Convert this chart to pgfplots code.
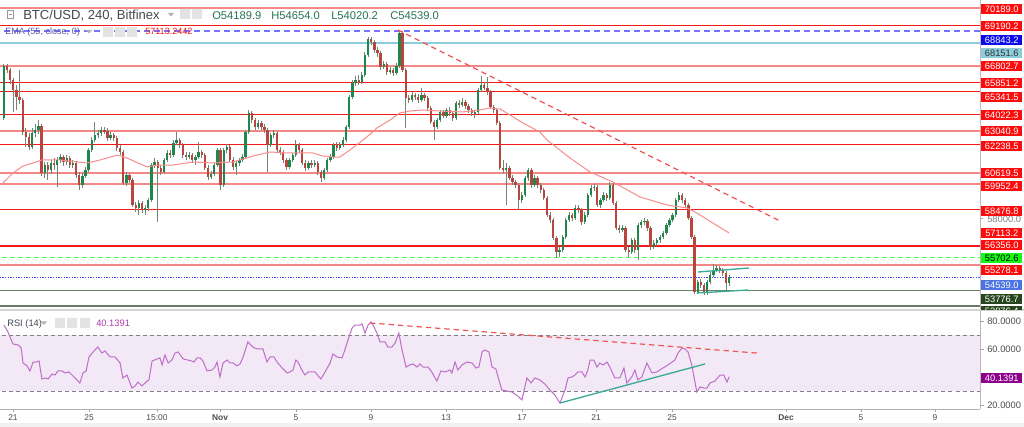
\documentclass[border=0pt]{standalone}
\usepackage{fontspec}
\setmainfont{Liberation Sans}
\usepackage{pgfplots}
\usepackage{pgfplotstable}
\pgfplotsset{compat=1.18}

\definecolor{upc}{RGB}{30,135,75}
\definecolor{dnc}{RGB}{185,70,62}
\definecolor{wick}{RGB}{110,135,118}
\definecolor{hred}{RGB}{245,25,25}
\definecolor{hpink}{RGB}{246,135,135}
\definecolor{ema}{RGB}{248,140,140}
\definecolor{tred}{RGB}{240,85,85}
\definecolor{chtl}{RGB}{60,170,150}
\definecolor{tagred}{RGB}{252,12,12}
\definecolor{tagblue}{RGB}{10,10,235}
\definecolor{taglb}{RGB}{140,205,220}
\definecolor{taggreen}{RGB}{20,250,20}
\definecolor{tagprice}{RGB}{75,115,225}
\definecolor{tagdg}{RGB}{40,70,30}
\definecolor{rsic}{RGB}{190,110,200}
\definecolor{rsiband}{RGB}{243,232,245}
\definecolor{rsitag}{RGB}{140,0,140}
\definecolor{hdr}{RGB}{70,72,82}
\definecolor{ohlc}{RGB}{40,115,80}
\definecolor{lvlg}{RGB}{105,135,100}
\definecolor{lvlk}{RGB}{110,120,105}

% 4h candles, k = candle index (6 per day, k=3 is 21 Oct 00:00)
\pgfplotstableread{
k o h l c
0 63798 66936 63682 66819
9 62113 63217 61997 62927
10 62927 63450 62694 63101
11 63101 63682 62869 63333
13 60603 61242 60312 61067
15 60777 61358 60545 61184
17 61067 61532 59789 61358
18 61358 61707 61184 61532
20 61242 61648 61067 61474
22 61067 61358 60893 61184
25 59905 60603 59731 60428
26 60428 60951 60312 60777
27 60777 62055 60661 61939
28 61939 62694 61823 62520
29 62520 63566 62404 62810
30 62810 63101 62636 62927
31 62927 63275 62752 63101
34 62636 62985 62520 62810
39 60022 60661 59847 60486
43 58569 59034 58162 58860
45 58453 58743 58162 58569
46 58569 59150 58395 59034
47 59034 61184 58918 61067
48 61067 61474 60893 61242
51 60661 61474 60545 61358
52 61358 61939 61242 61765
54 61648 62520 61532 62346
55 62346 62985 62229 62520
59 61532 61823 61416 61648
61 61358 61648 61067 61532
62 61532 62404 61416 61823
66 60370 60719 60254 60545
67 60545 61184 60428 61067
68 61067 62055 60951 61939
70 59905 62055 59789 61939
71 61939 62288 61765 62113
74 60951 61300 60486 61184
75 61184 61474 61009 61358
76 61358 61707 61242 61532
77 61532 63101 61416 62985
78 62985 64263 62869 64089
81 63275 63682 63159 63508
85 62229 62927 62113 62810
86 62810 63101 62636 62927
91 60951 61474 60835 61358
92 61358 61765 61242 61648
93 61648 62520 61532 62229
97 60893 61300 60777 61184
99 61067 61358 60951 61184
102 60312 60893 60196 60777
103 60777 61474 60661 61358
104 61358 61707 61242 61532
105 61532 62346 61416 62229
107 62055 62404 61939 62229
108 62229 62694 62113 62520
109 62520 63392 62404 63275
110 63275 65134 63159 65018
111 65018 66006 64902 65832
112 65832 66238 65657 66006
114 65890 66471 65774 66296
115 66296 67633 66180 67458
116 67458 68504 67342 68388
121 66761 67110 66645 66936
123 66471 66761 66355 66587
125 66413 66994 66296 66819
126 66819 68911 66703 68737
130 64844 65309 64728 65134
133 64844 65541 64728 65134
138 63275 63798 63159 63682
139 63682 64263 63566 64147
141 63914 64379 63798 64263
144 63798 64786 63682 64670
146 64553 64960 64437 64728
150 64089 64263 63798 64147
151 64147 65541 64031 65425
152 65425 66238 65309 65715
160 60777 61184 58743 60893
165 59034 59499 58860 59324
166 59324 60428 59208 60312
167 60312 60893 60138 60777
169 59905 60486 59789 60312
177 56013 56303 55722 56129
178 56129 57001 56013 56884
179 56884 57988 56768 57872
180 57872 58337 57756 58162
182 57988 58743 57872 58569
185 57756 58337 57640 58162
186 58162 59441 58046 59324
187 59324 59905 59208 59731
188 59731 59964 59557 59789
190 58743 59150 58569 59034
191 59034 59499 58918 59324
193 59150 60080 59034 59905
197 57291 57581 57175 57407
200 56013 56826 55897 56710
202 56129 57698 55548 57581
203 57581 57872 57407 57756
204 57756 57988 57581 57814
207 56303 56710 56187 56536
208 56536 56826 56361 56710
209 56710 57001 56536 56884
210 56884 57233 56768 57117
211 57117 57698 57001 57581
212 57581 57988 57465 57872
213 57872 58279 57756 58162
214 58162 59150 58046 59034
215 59034 59499 58918 59324
221 53689 54386 53573 54270
224 53631 54386 53515 54270
225 54270 54851 54154 54676
226 54676 55316 54560 54967
227 54967 55258 54851 55083
231 54189.9 54654.0 54020.2 54539.0
}\upcandles

\pgfplotstableread{
k o h l c
1 66819 66936 66413 66587
2 66587 66703 65774 66006
3 66006 66122 64147 65425
4 65425 65715 64263 65018
5 65018 66587 64612 64844
6 64844 64960 62810 62985
7 62985 63217 62113 62694
8 62694 62927 61939 62113
12 63333 63450 60428 60603
14 61067 61242 60196 60777
16 61184 61474 60777 61067
19 61532 61648 61009 61242
21 61474 61590 60893 61067
23 61184 61300 60312 60486
24 60486 60661 59615 59905
32 63101 63275 62869 63043
33 63043 63217 62462 62636
35 62810 62927 62462 62636
36 62636 62752 61881 62055
37 62055 62229 61648 61823
38 61823 61939 59905 60022
40 60486 60603 60022 60196
41 60196 60312 58627 58743
42 58743 58918 58337 58569
44 58860 58976 58279 58453
49 61242 61358 57756 60893
50 60893 61067 60486 60661
53 61765 61939 61474 61648
56 62520 62636 62055 62229
57 62229 62346 61474 61648
58 61648 61823 61358 61532
60 61648 61765 61184 61358
63 61823 61939 61474 61648
64 61648 61765 60777 60893
65 60893 61067 60196 60370
69 61939 62055 59615 59905
72 62113 62229 61242 61358
73 61358 61532 60777 60951
79 64089 64205 63508 63682
80 63682 63798 63101 63275
82 63508 63624 63101 63275
83 63275 63450 62927 63101
84 63101 63217 60661 62229
87 62927 63043 61765 61939
88 61939 62113 61648 61823
89 61823 61939 61184 61358
90 61358 61474 60777 60951
94 62229 62346 61765 61939
95 61939 62055 61067 61184
96 61184 61358 60719 60893
98 61184 61358 60893 61067
100 61184 61300 60486 60661
101 60661 60777 60080 60312
106 62229 62404 61881 62055
113 66006 66296 65715 65890
117 68388 68504 68040 68214
118 68214 68330 67575 67749
119 67749 67923 67342 67575
120 67575 67691 66587 66761
122 66936 67052 66296 66471
124 66587 66703 66238 66413
127 68737 68853 66471 66587
128 66587 66703 63217 64960
129 64960 65134 64670 64844
131 65134 65251 64844 65018
132 65018 65193 64670 64844
134 65134 65251 64786 64960
135 64960 65076 64263 64379
136 64379 64495 63450 63566
137 63566 63682 62520 63275
140 64147 64263 63798 63914
142 64263 64437 63914 64089
143 64089 64205 63624 63798
145 64670 64844 64379 64553
147 64728 64844 64321 64495
148 64495 64612 64089 64263
149 64263 64379 63914 64089
153 65715 65890 65425 65541
154 65541 66180 65134 65309
155 65309 65425 64321 64437
156 64437 64553 64089 64263
157 64263 64379 63392 63508
158 63508 63624 60777 60893
159 60893 61358 60603 60777
161 60893 61009 60196 60312
162 60312 60486 59905 60080
163 60080 60196 59731 59905
164 59905 60022 58453 59034
168 60777 60893 59731 59905
170 60312 60428 59731 59905
171 59905 60022 59441 59615
172 59615 59731 59034 59150
173 59150 59266 58046 58162
174 58162 58337 57698 57872
175 57872 57988 56710 56826
176 56826 56943 55664 56013
181 58162 58279 57814 57988
183 58569 58743 58279 58453
184 58453 58569 57581 57756
189 59789 59905 58627 58743
192 59324 59441 58976 59150
194 59905 60022 58743 58860
195 58860 58976 57291 57407
196 57407 57581 57117 57291
198 57407 57523 56013 56129
199 56129 56303 55722 56013
201 56710 56826 55955 56129
205 57814 57930 57233 57407
206 57407 57523 56129 56303
216 59324 59441 58860 59034
217 59034 59150 58569 58743
218 58743 58860 57872 57988
219 57988 58104 56768 56884
220 56884 57001 53573 53689
222 54270 54444 53921 54095
223 54095 54212 53515 53631
228 55083 55199 54793 54967
229 54967 55083 54618 54793
230 54793 54909 53805 54190
}\dncandles

\newcommand\ptag[4]{\node[fill=#2,text=#3,anchor=west,minimum width=30.75pt,minimum height=7.5pt,inner sep=0pt,font=\fontsize{7}{7}\selectfont] at (981,#1) {#4};}
\newcommand\hl[2]{\addplot[#1] coordinates {(-3,#2) (315,#2)};}
\pgfplotsset{candle/.style={only marks, mark=*, mark size=0pt,
    mark options={draw=none, fill=none},
    error bars/.cd, y dir=both, y explicit, error mark=none},
  redlvl/.style={draw=hred, line width=0.95pt},
  pinklvl/.style={draw=hpink, line width=1.4pt}}

\begin{document}
\begin{tikzpicture}[x=0.75pt,y=-0.75pt]
\fill[white] (0,0) rectangle (1024,427);
\path[use as bounding box] (0,0) rectangle (1024,427);

% ---- price panel
\begin{axis}[at={(0pt,0pt)}, anchor=north west, scale only axis,
  width=735pt, height=231.75pt, hide axis,
  xmin=-1.24, xmax=310.9, ymin=52701, ymax=70654]
\hl{pinklvl}{70189.0}
\hl{redlvl}{69190.2}
\hl{draw=blue!55, line width=1.1pt, dash pattern=on 4.5pt off 3pt}{68843.2}
\hl{draw=taglb, line width=1.4pt}{68151.6}
\hl{pinklvl}{66802.7}
\hl{redlvl}{65851.2}
\hl{redlvl}{65341.5}
\hl{redlvl}{64022.3}
\hl{pinklvl}{63040.9}
\hl{redlvl}{62238.5}
\hl{pinklvl}{60619.5}
\hl{pinklvl}{59952.4}
\hl{redlvl}{58476.8}
\hl{redlvl}{56356.0}
\hl{draw=green!70, line width=0.8pt, dash pattern=on 3.5pt off 2.5pt}{55702.6}
\hl{pinklvl}{55278.1}
\hl{draw=blue!70, line width=0.5pt, dash pattern=on 1pt off 1pt}{54539.0}
\hl{draw=lvlg, line width=1.1pt}{53776.7}
\hl{draw=lvlk, line width=1pt}{52876.4}

% wicks
\addplot[candle, error bar style={wick, line width=0.7pt}]
  table[x=k, y expr={(\thisrow{h}+\thisrow{l})/2}, y error expr={(\thisrow{h}-\thisrow{l})/2}] {\upcandles};
\addplot[candle, error bar style={wick, line width=0.7pt}]
  table[x=k, y expr={(\thisrow{h}+\thisrow{l})/2}, y error expr={(\thisrow{h}-\thisrow{l})/2}] {\dncandles};
% bodies
\addplot[candle, error bar style={upc, line width=1.75pt}]
  table[x=k, y expr={(\thisrow{o}+\thisrow{c})/2}, y error expr={(\thisrow{c}-\thisrow{o})/2}] {\upcandles};
\addplot[candle, error bar style={dnc, line width=1.75pt}]
  table[x=k, y expr={(\thisrow{o}+\thisrow{c})/2}, y error expr={(\thisrow{o}-\thisrow{c})/2}] {\dncandles};

% EMA 55
\addplot[ema, line width=0.75pt] coordinates {
(-0.3,60022) (2.9,60603) (6.1,61009) (9.3,61184) (12.1,61358) (17.9,61358)
(26.5,61184) (30.6,61358) (36.3,61648) (39.2,61474) (45.6,60951) (48.8,61067)
(53.9,61067) (60.2,61242) (66.6,61184) (73,61242) (79.3,61590) (84.8,61823)
(90.2,61765) (98.4,61765) (101.6,61590) (104.8,61532) (107,61532) (110.2,61939)
(114.4,62520) (117.5,62985) (118.8,63217) (123,63682) (126.1,64089) (129.3,64205)
(133.5,64263) (138.9,64205) (146.2,64147) (151.6,64263) (154.8,64379) (158,64321)
(161.2,63972) (165.3,63508) (170.7,62985) (173,62520) (180.3,61474) (186.7,60661)
(194,60080) (202.6,59208) (211.2,58743) (217.6,58569) (220.7,58279) (225.8,57698)
(231,57113.2)};

% trend lines
\addplot[tred, line width=0.9pt, dash pattern=on 4pt off 3pt] coordinates {(125.5,68911) (247.8,57756)};
\addplot[chtl, line width=1pt] coordinates {(221.1,54851) (237.3,55083)};
\addplot[chtl, line width=1pt] coordinates {(220.7,53631) (237,53805)};
\end{axis}

% ---- RSI panel
\begin{axis}[at={(0pt,-233.25pt)}, anchor=north west, scale only axis,
  width=735pt, height=73.5pt, hide axis,
  xmin=-1.24, xmax=310.9, ymin=17.14, ymax=87.14]
\fill[rsiband] (axis cs:-3,30) rectangle (axis cs:315,70);
\hl{draw=gray, line width=0.6pt, dash pattern=on 3pt off 2.3pt}{70}
\hl{draw=gray, line width=0.6pt, dash pattern=on 3pt off 2.3pt}{30}
\addplot[rsic, line width=0.75pt] coordinates {
(0,77.1) (1.3,72.1) (2.9,63.6) (4.5,62.9) (5.5,60.7) (6.1,50) (7.4,47.9) (8.3,44.3)
(9.3,50.7) (10.2,50.7) (11.2,51.4) (12.1,38.6) (13.1,39.3) (14.1,38.6) (15.3,42.1)
(16.3,41.4) (17.2,44.3) (18.5,44.3) (19.5,42.9) (20.7,43.6) (21.7,41.4) (23.3,37.9)
(24.2,35.7) (25.2,42.9) (26.2,44.3) (27.1,54.3) (28.4,57.9) (29.9,61.4) (31.2,57.1)
(32.2,58.6) (33.8,54.3) (35.4,54.3) (37,50) (37.9,39.3) (39.2,41.4) (40.8,32.1)
(41.8,33.6) (42.7,36.4) (44,33.6) (45.6,37.1) (46.2,37.9) (47.2,51.4) (48.8,52.9)
(49.7,53.6) (50.4,48.6) (51.3,55.7) (52.3,50) (53.5,52.1) (54.5,57.1) (55.5,57.9)
(57.1,52.9) (59.9,51.4) (60.5,50.7) (61.5,53.6) (62.5,53.6) (63.4,51.4) (64.7,44.3)
(66.3,45) (67.2,47.1) (67.9,50.7) (68.8,40) (69.8,50) (71.1,52.1) (72,50) (73,50)
(74.2,47.9) (75.2,49.3) (76.2,54.3) (77.7,65) (79.3,61.4) (80.6,60) (82.5,60)
(83.8,50.7) (84.8,54.3) (86,54.3) (87,50.7) (88.6,46.4) (90.2,42.9) (91.1,43.6)
(92.1,45) (93,52.1) (93.7,50.7) (94.9,45) (95.9,41.4) (96.9,43.6) (99.1,43.6)
(100.1,40.7) (101,38.6) (102.3,43.6) (103.9,50) (104.8,56.4) (106.1,54.3) (107.7,53.6)
(108.6,59.3) (109.6,66.4) (110.9,75) (111.8,77.1) (113.4,77.1) (114.1,77.9) (115,71.4)
(116,77.1) (116.9,79.3) (117.6,77.1) (118.8,71.4) (119.8,65) (121.4,65) (122.3,61.4)
(123.6,61.4) (124.6,64.3) (125.8,71.4) (126.8,59.3) (128.1,47.1) (129.3,48.6)
(130.3,49.3) (131.6,47.1) (132.5,49.3) (133.5,47.1) (135.1,47.1) (136.3,43.6)
(137.9,37.1) (139.2,44.3) (140.5,43.6) (142.1,45) (142.7,42.9) (143.7,50.7) (144.6,45)
(145.9,48.6) (147.5,50.7) (149.1,50) (150.4,46.4) (151.3,47.1) (152.3,57.9) (153.2,59.3)
(154.5,57.9) (155.5,47.1) (156.7,45.7) (157.4,40) (158.6,30.7) (160.2,30) (161.8,29.3)
(163.7,26.4) (165,23.6) (166.6,39.3) (167.9,35.7) (169.1,39.3) (170.7,37.9) (172.3,35)
(173.9,30.7) (175.5,27.1) (177.1,21.4) (178.7,30.7) (179.7,39.3) (180.9,40) (181.9,41.4)
(182.8,43.6) (184.1,43.6) (185.1,40) (186,45) (186.7,52.1) (187.9,52.1) (188.9,47.1)
(189.8,50) (190.8,48.6) (192.1,50.7) (193,47.1) (194.6,39.3) (196.2,39.3) (197.5,46.4)
(198.4,35.7) (200,40) (201,45) (201.9,37.9) (203.2,40) (204.8,50) (206.4,42.9) (208,43.6)
(209.9,46.4) (211.5,48.6) (212.8,50.7) (213.7,52.1) (214.7,57.1) (216,60.7) (216.9,60)
(217.9,57.9) (219.1,48.6) (220.7,29.3) (221.7,32.9) (223,32.1) (223.9,32.1) (224.9,35.7)
(226.5,37.1) (228.1,41.4) (229.3,41.4) (230.3,36.4) (231,40.1391)};
\addplot[tred, line width=0.9pt, dash pattern=on 4pt off 3pt] coordinates {(116.6,78.6) (239.8,57.1)};
\addplot[chtl, line width=1pt] coordinates {(177.1,21.4) (223.3,49.3)};
\end{axis}

% ---- frames
\draw[gray!55, line width=0.75pt] (980,0) -- (980,409);
\draw[gray!35, line width=1.2pt] (0,310) -- (1024,310);
\draw[gray!60, line width=0.75pt] (0,409) -- (980,409);
\fill[gray!12] (0,423) rectangle (1024,427);

% ---- header legends
\draw[gray!80, line width=0.5pt] (7.5,10.5) rectangle (13.5,18.5) (9,14.5) -- (12,14.5);
\node[anchor=base west, inner sep=0pt, text=hdr, font=\fontsize{9.8}{10}\selectfont] at (23,19.3) {BTC/USD, 240, Bitfinex};
\fill[gray!60] (168,13) -- (174,13) -- (171,16.5) -- cycle;
\fill[gray!22] (180,9) rectangle (190,19) (192,9) rectangle (202,19);
\begin{scope}[font=\fontsize{8.4}{9}\selectfont, text=ohlc]
\node[anchor=base west, inner sep=0pt] at (212,19.3) {O54189.9};
\node[anchor=base west, inner sep=0pt] at (271,19.3) {H54654.0};
\node[anchor=base west, inner sep=0pt] at (331,19.3) {L54020.2};
\node[anchor=base west, inner sep=0pt] at (390,19.3) {C54539.0};
\end{scope}
\node[anchor=base west, inner sep=0pt, text=gray!70!blue, font=\fontsize{6.8}{7}\selectfont] at (5,34.3) {EMA (55, close, 0)};
\fill[gray!60] (86,30) -- (92,30) -- (89,33.5) -- cycle;
\fill[gray!22] (103,27) rectangle (113,37) (115,27) rectangle (125,37) (127,27) rectangle (137,37);
\node[anchor=base west, inner sep=0pt, text=hred, font=\fontsize{6.8}{7}\selectfont] at (145,34.3) {57113.2442};
\node[anchor=base west, inner sep=0pt, text=hdr, font=\fontsize{7}{8}\selectfont] at (7,326.7) {RSI (14)};
\fill[gray!60] (41,321.5) -- (47,321.5) -- (44,325) -- cycle;
\fill[gray!22] (55,318) rectangle (65,328) (67,318) rectangle (77,328) (80,318) rectangle (90,328);
\node[anchor=base west, inner sep=0pt, text=rsitag!75!white, font=\fontsize{7}{8}\selectfont] at (96,326.7) {40.1391};

% ---- price scale tags
\draw[gray!70] (980,218) -- (983,218);
\node[anchor=west, inner sep=0pt, text=gray, font=\fontsize{7}{7}\selectfont] at (987,219) {58000.0};
\ptag{9}{tagred}{white}{70189.0}
\ptag{26}{tagred}{white}{69190.2}
\ptag{40}{tagblue}{white}{68843.2}
\ptag{53}{taglb}{black!80}{68151.6}
\ptag{66.5}{tagred}{white}{66802.7}
\ptag{83.5}{tagred}{white}{65851.2}
\ptag{97.5}{tagred}{white}{65341.5}
\ptag{115.5}{tagred}{white}{64022.3}
\ptag{131.5}{tagred}{white}{63040.9}
\ptag{146}{tagred}{white}{62238.5}
\ptag{173.5}{tagred}{white}{60619.5}
\ptag{186}{tagred}{white}{59952.4}
\ptag{211}{tagred}{white}{58476.8}
\ptag{233}{tagred}{white}{57113.2}
\ptag{245}{tagred}{white}{56356.0}
\ptag{258}{taggreen}{black}{55702.6}
\ptag{270}{tagred}{white}{55278.1}
\ptag{285}{tagprice}{white}{54539.0}
\ptag{299.5}{tagdg}{white}{53776.7}
\begin{scope}
\clip (980,0) rectangle (1024,309.3);
\ptag{311}{tagdg}{white}{52876.4}
\end{scope}

% ---- RSI scale
\begin{scope}[font=\fontsize{7}{7}\selectfont, text=black!70]
\draw[gray!70] (980,321) -- (984,321) (980,349) -- (984,349) (980,405) -- (984,405);
\node[anchor=west, inner sep=0pt] at (987,321) {80.0000};
\node[anchor=west, inner sep=0pt] at (987,349) {60.0000};
\begin{scope}
\clip (980,311) rectangle (1024,408.5);
\node[anchor=west, inner sep=0pt] at (987,405.5) {20.0000};
\end{scope}
\end{scope}
\ptag{378.5}{rsitag}{white}{40.1391}

% ---- time scale
\begin{scope}[font=\fontsize{6.3}{7}\selectfont, text=black!70]
\foreach \xx/\lab in {13/21, 89/25, 157/15:00, 220/\textbf{Nov}, 296/5, 371/9, 446/13,
  522/17, 596/21, 672/25, 786/\textbf{Dec}, 861/5, 935/9}{
  \draw[gray!70] (\xx,409) -- (\xx,412);
  \node[anchor=base, inner sep=0pt] at (\xx,420) {\lab};
}
\end{scope}
\end{tikzpicture}
\end{document}
